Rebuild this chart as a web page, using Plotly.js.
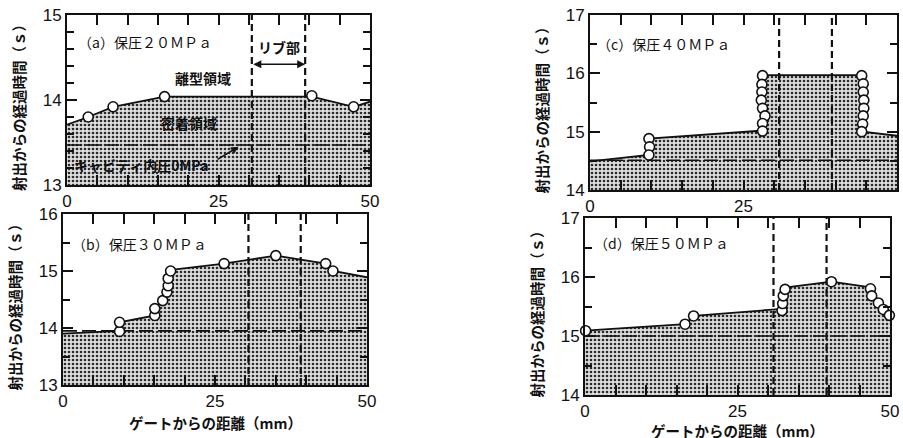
<!DOCTYPE html>
<html><head><meta charset="utf-8">
<script src="https://cdn.plot.ly/plotly-3.0.1.min.js"></script>
<style>html,body{margin:0;padding:0;background:#fff}</style>
</head><body><div id="chart" style="width:903px;height:438px"></div>
<script>
// ---- data ----
// (a) 保圧20MPa
const aLineX = [0, 3.5, 7.6, 16.1, 40.4, 47.3, 50];
const aLineY = [13.71, 13.80, 13.92, 14.04, 14.04, 13.92, 13.98];
const aMarkX = [3.5, 7.6, 16.1, 40.4, 47.3];
const aMarkY = [13.80, 13.92, 14.04, 14.05, 13.92];
const aCavity = 13.47;
const aRib = [30.5, 39.3];
// (b) 保圧30MPa
const bLineX = [0, 9.3, 9.3, 15.1, 15.1, 16.4, 17.1, 17.3, 17.3, 17.7, 18.5, 26.5, 35.0, 43.2, 44.4, 50];
const bLineY = [13.90, 13.95, 14.10, 14.22, 14.34, 14.48, 14.63, 14.74, 14.87, 15.00, 15.03, 15.13, 15.27, 15.13, 15.00, 14.89];
const bMarkX = [9.3, 9.3, 15.1, 15.1, 16.4, 17.1, 17.3, 17.3, 17.7, 26.5, 35.0, 43.2, 44.4];
const bMarkY = [13.94, 14.10, 14.22, 14.34, 14.48, 14.63, 14.74, 14.87, 15.00, 15.13, 15.27, 15.13, 15.00];
const bCavity = 13.95;
const bRib = [30.5, 39.1];
// (c) 保圧40MPa
const cLineX = [0, 9.0, 9.6, 9.6, 27.8, 28.3, 28.3, 44.2, 44.4, 44.4, 50];
const cLineY = [14.49, 14.59, 14.60, 14.88, 15.02, 15.02, 15.97, 15.97, 15.97, 15.00, 14.93];
const cMarkX = [9.6, 9.7, 9.6, 28.1, 28.0, 28.0, 27.9, 28.1, 28.5, 28.1, 28.1, 44.25, 44.5, 44.5, 44.6, 44.6, 44.5, 44.4, 44.25];
const cMarkY = [14.88, 14.74, 14.60, 15.96, 15.81, 15.68, 15.54, 15.40, 15.27, 15.14, 15.01, 15.96, 15.82, 15.68, 15.54, 15.40, 15.27, 15.13, 15.00];
const cCavity = 14.51;
const cRib = [30.8, 39.4];
// (d) 保圧50MPa
const dLineX = [0, 16.4, 17.8, 31.2, 32.3, 32.8, 40.4, 46.5, 47.0, 48.1, 48.9, 50];
const dLineY = [15.09, 15.20, 15.34, 15.46, 15.46, 15.82, 15.92, 15.83, 15.68, 15.56, 15.45, 15.33];
const dMarkX = [0.1, 16.4, 17.8, 32.3, 32.4, 32.5, 32.8, 40.4, 46.8, 47.0, 48.1, 48.9, 49.9];
const dMarkY = [15.09, 15.20, 15.34, 15.43, 15.55, 15.68, 15.79, 15.92, 15.80, 15.68, 15.56, 15.45, 15.35];
const dCavity = 15.0;
const dRib = [30.9, 39.6];

const xTickVals = [0, 25, 50];
const xTickText = ['0', '25', '50'];
const panelTitles = ['（a）保圧２０ＭＰａ', '（b）保圧３０ＭＰａ', '（c）保圧４０ＭＰａ', '（d）保圧５０ＭＰａ'];
const yTitle = '射出からの経過時間（ｓ）';
const xTitle = 'ゲートからの距離（mm）';

// ---- build ----
const INK = '#111';
const JP = '"Noto Sans CJK JP", "Noto Sans", sans-serif';
const NUM = '"Liberation Sans", Arial, sans-serif';
const W = 903, H = 438;
const boxes = [ // px boxes: left, right, top, bottom
  [67, 370, 15, 185],
  [63, 367, 214, 385],
  [590, 897, 15, 190],
  [585, 890, 218, 395]
];
const yRanges = [[13, 15], [13, 16], [14, 17], [14, 17]];
const yTickSets = [[13, 14, 15], [13, 14, 15, 16], [14, 15, 16, 17], [14, 15, 16, 17]];
const yMinor = [0.2, 0.5, 0.5, 0.5];
const panels = [
  [aLineX, aLineY, aMarkX, aMarkY, aCavity, aRib],
  [bLineX, bLineY, bMarkX, bMarkY, bCavity, bRib],
  [cLineX, cLineY, cMarkX, cMarkY, cCavity, cRib],
  [dLineX, dLineY, dMarkX, dMarkY, dCavity, dRib]
];
const titlePos = [[1.5, 14.68], [1.1, 15.47], [0.8, 16.5], [1.1, 16.58]];

const traces = [], shapes = [], annotations = [];
const layout = {
  width: W, height: H, margin: {l: 0, r: 0, t: 0, b: 0},
  paper_bgcolor: '#fff', plot_bgcolor: '#fff', showlegend: false,
  font: {family: NUM, color: INK}
};

panels.forEach((p, i) => {
  const n = i + 1;
  const xa = 'x' + (n === 1 ? '' : n), ya = 'y' + (n === 1 ? '' : n);
  const [l, r, t, b] = boxes[i];
  layout['xaxis' + (n === 1 ? '' : n)] = {
    domain: [l / W, r / W], anchor: ya, range: [0, 50],
    tickmode: 'array', tickvals: xTickVals, ticktext: xTickText,
    ticks: 'inside', ticklen: 10, tickwidth: 2, tickcolor: INK,
    minor: {dtick: 5, tick0: 0, ticks: 'inside', ticklen: 10, tickwidth: 2, tickcolor: INK},
    showline: true, linewidth: 2, linecolor: INK, mirror: 'ticks',
    showgrid: false, zeroline: false,
    tickfont: {family: NUM, size: 17, color: INK}
  };
  layout['yaxis' + (n === 1 ? '' : n)] = {
    domain: [1 - b / H, 1 - t / H], anchor: xa, range: yRanges[i],
    tickmode: 'array', tickvals: yTickSets[i], ticktext: yTickSets[i].map(String),
    ticks: 'inside', ticklen: 10, tickwidth: 2, tickcolor: INK,
    minor: {dtick: yMinor[i], tick0: 0, ticks: 'inside', ticklen: 7, tickwidth: 2, tickcolor: INK},
    showline: true, linewidth: 2, linecolor: INK, mirror: 'ticks',
    showgrid: false, zeroline: false,
    tickfont: {family: NUM, size: 17, color: INK}
  };
  // fill area + boundary line
  traces.push({
    x: p[0], y: p[1], xaxis: xa, yaxis: ya, type: 'scatter', mode: 'lines',
    line: {color: INK, width: 1.8}, fill: 'tozeroy',
    fillcolor: '#cfcfcf',
    fillpattern: {shape: '.', bgcolor: '#dedede', fgcolor: '#2a2a2a', size: 4, solidity: 0.35},
    hoverinfo: 'skip'
  });
  // cavity pressure 0 line
  traces.push({
    x: [0, 50], y: [p[4], p[4]], xaxis: xa, yaxis: ya, type: 'scatter', mode: 'lines',
    line: {color: INK, width: 1.6, dash: '14px,5px'}, hoverinfo: 'skip'
  });
  // markers
  traces.push({
    x: p[2], y: p[3], xaxis: xa, yaxis: ya, type: 'scatter', mode: 'markers',
    cliponaxis: false,
    marker: {symbol: 'circle', size: 10, color: '#fff', line: {color: INK, width: 1.6}},
    hoverinfo: 'skip'
  });
  // rib lines
  p[5].forEach(xv => shapes.push({
    type: 'line', xref: xa, yref: ya + ' domain', x0: xv, x1: xv, y0: 0, y1: 1,
    line: {color: INK, width: 2.2, dash: '7px,4px'}
  }));
  // panel title
  annotations.push({
    xref: xa, yref: ya, x: titlePos[i][0], y: titlePos[i][1], xanchor: 'left', yanchor: 'middle',
    text: panelTitles[i], showarrow: false,
    font: {family: JP, size: 14, color: INK}
  });
  // y title
  annotations.push({
    xref: 'paper', yref: 'paper', x: (l - 49) / W, y: 1 - ((t + b) / 2 + 4) / H,
    xanchor: 'center', yanchor: 'middle', textangle: -90, text: yTitle, showarrow: false,
    font: {family: JP, size: 14.5, color: INK, weight: 700}
  });
});

// x titles (bottom panels)
[[1, 422], [3, 430]].forEach(([i, py]) => {
  const [l, r] = boxes[i];
  annotations.push({
    xref: 'paper', yref: 'paper', x: (l + r) / 2 / W, y: 1 - py / H,
    xanchor: 'center', yanchor: 'middle', text: xTitle, showarrow: false,
    font: {family: JP, size: 14.5, color: INK, weight: 700}
  });
});

// panel (a) annotations
annotations.push(
  {xref: 'x', yref: 'y', x: 22.5, y: 14.26, text: '離型領域', showarrow: false,
   font: {family: JP, size: 14, color: INK, weight: 700}},
  {xref: 'x', yref: 'y', x: 20.2, y: 13.73, text: '密着領域', showarrow: false,
   font: {family: JP, size: 14, color: INK, weight: 700}},
  {xref: 'x', yref: 'y', x: 12.2, y: 13.24, text: 'キャビティ内圧0MPa', showarrow: false,
   font: {family: JP, size: 14, color: INK, weight: 700}},
  {xref: 'x', yref: 'y', x: 28.3, y: 13.45, ax: 24.6, ay: 13.29, axref: 'x', ayref: 'y',
   text: '', showarrow: true, arrowhead: 2, arrowsize: 1, arrowwidth: 1.5, arrowcolor: INK},
  {xref: 'x', yref: 'y', x: 35.0, y: 14.62, text: 'リブ部', showarrow: false,
   font: {family: JP, size: 14, color: INK, weight: 700}},
  {xref: 'x', yref: 'y', x: aRib[1], y: 14.42, ax: aRib[0], ay: 14.42, axref: 'x', ayref: 'y',
   text: '', showarrow: true, arrowside: 'end+start', arrowhead: 2, arrowsize: 1, arrowwidth: 1.6, arrowcolor: INK}
);

layout.shapes = shapes;
layout.annotations = annotations;
Plotly.newPlot('chart', traces, layout, {staticPlot: true, displayModeBar: false});
</script>
</body></html>
